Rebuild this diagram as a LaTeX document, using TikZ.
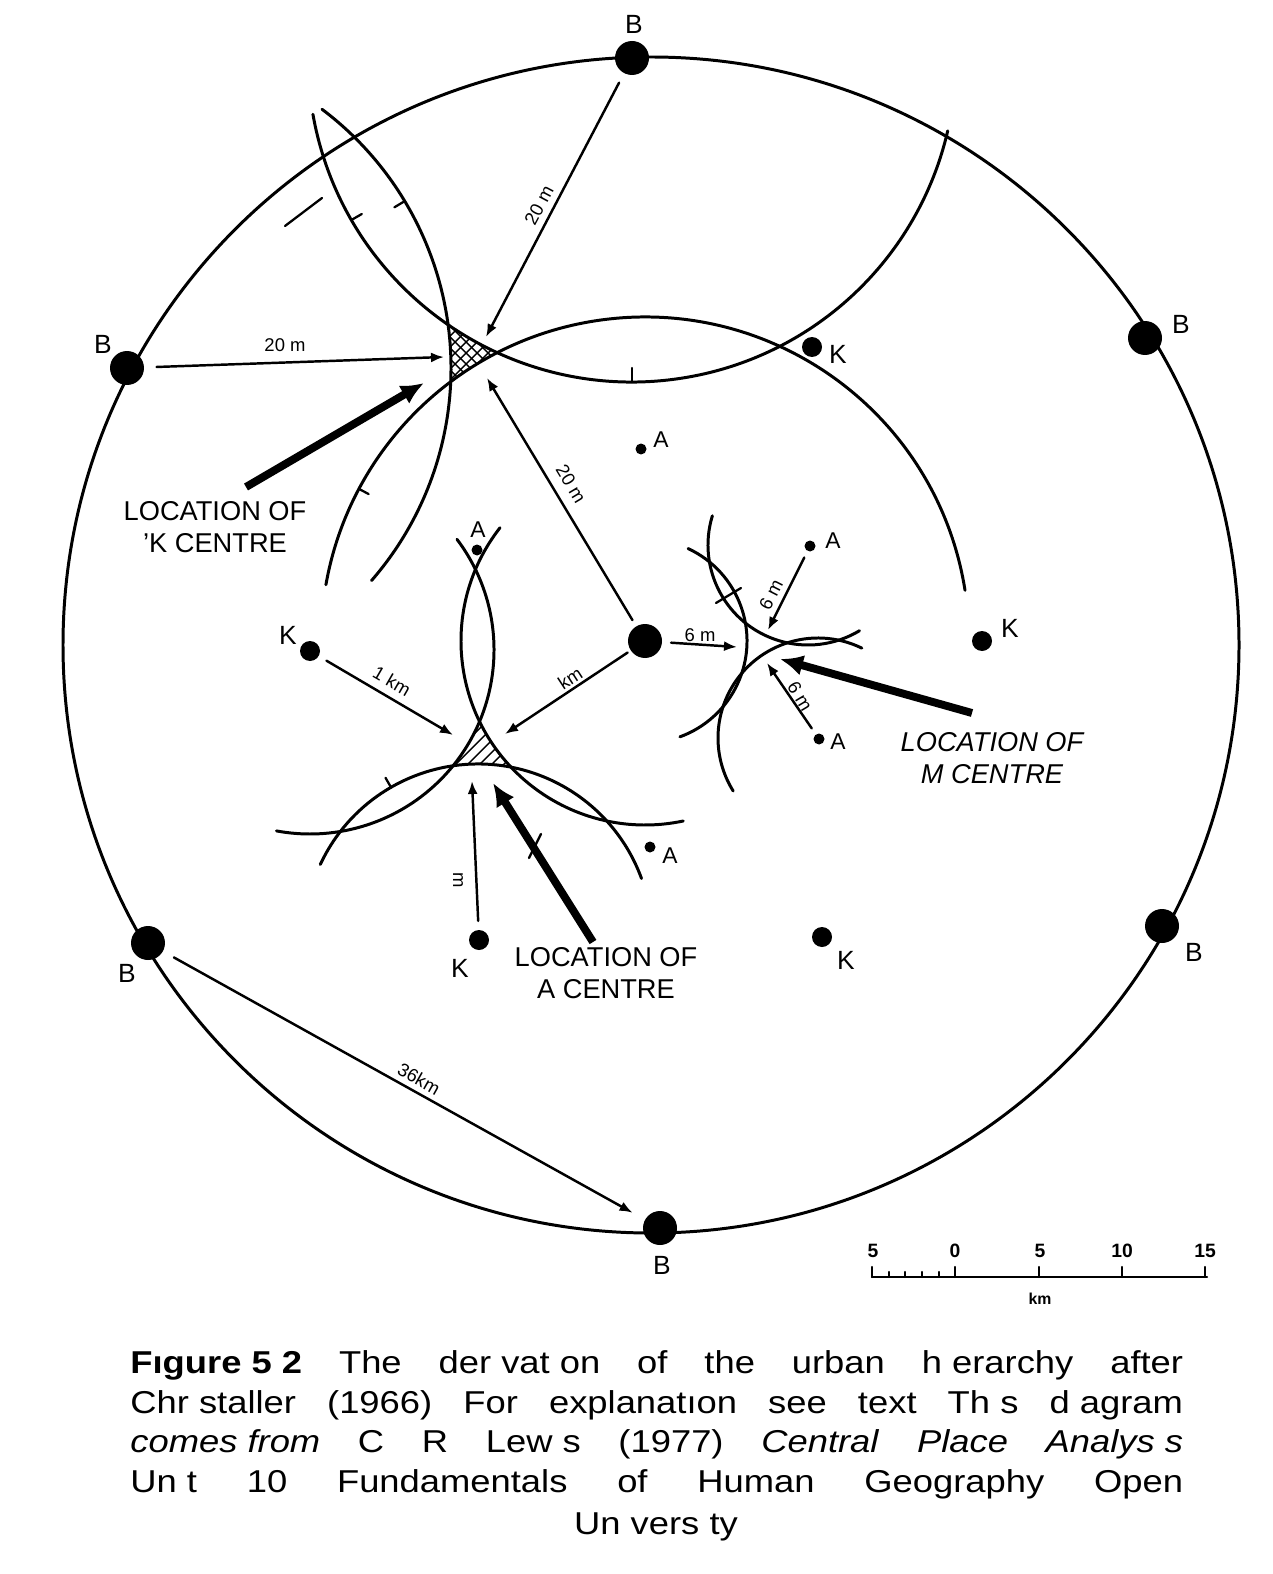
\documentclass[tikz,border=0pt]{standalone}
\usepackage{fontspec}
\setmainfont{Liberation Sans}
\newfontfamily\capfont[FakeStretch=1.15]{Liberation Sans}
\usetikzlibrary{arrows.meta}
\newcommand\capline[1]{\hbox to 21.06cm{#1}}
\begin{document}
\begin{tikzpicture}[x=0.02cm,y=-0.02cm,line cap=round,line join=round,
  ring/.style={line width=1.7pt},
  hatchline/.style={line width=0.8pt},
  tickmark/.style={line width=1.3pt},
  dist/.style={line width=1.4pt,-{Latex[length=0.26cm,width=0.2cm]}},
  locarrow/.style={line width=4.5pt,line cap=butt,-{Latex[length=0.46cm,width=0.42cm]}},
  bdot/.style={circle,fill=black,inner sep=0pt,minimum size=0.68cm},
  kdot/.style={circle,fill=black,inner sep=0pt,minimum size=0.4cm},
  adot/.style={circle,fill=black,inner sep=0pt,minimum size=0.22cm},
  lbl/.style={inner sep=0pt,font=\fontsize{15}{15}\selectfont},
  albl/.style={inner sep=0pt,font=\fontsize{13}{13}\selectfont},
  dlbl/.style={inner sep=0pt,font=\fontsize{10.5}{10.5}\selectfont},
  loc/.style={inner sep=0pt,align=center,font=\fontsize{15.5}{18.5}\selectfont},
  scl/.style={inner sep=0pt,font=\bfseries\fontsize{11}{11}\selectfont},
  captext/.style={inner sep=0pt,anchor=base west,font=\capfont\fontsize{18}{20}\selectfont}]

\path[use as bounding box,fill=white] (0,0) rectangle (1272,1574);

% ---------- outer circle through the B centres
\draw[ring] (651,645) circle[radius=588];

% ---------- ranges of B centres (K centre location)
\draw[ring] (645,641) ++(-9:324) arc[start angle=-9,end angle=-170,radius=324];
\draw[ring] (632,58) ++(170:324) arc[start angle=170,end angle=13,radius=324];
\draw[ring] (127,368) ++(-53:324) arc[start angle=-53,end angle=41,radius=324];

% cross hatching of the K centre location
\begin{scope}[even odd rule]
  \clip (466,353) circle[radius=44];
  \clip (300,200) rectangle (650,520) (645,641) circle[radius=324];
  \clip (300,200) rectangle (650,520) (632,58) circle[radius=324];
  \clip (300,200) rectangle (650,520) (127,368) circle[radius=324];
  \foreach \d in {-99,-88,...,99} {
    \draw[hatchline] (466+\d-50,353-50) -- (466+\d+50,353+50);
    \draw[hatchline] (466+\d-50,353+50) -- (466+\d+50,353-50);
  }
\end{scope}

% ---------- ranges of B and K centres (A centre location)
\draw[ring] (645,641) ++(218:184) arc[start angle=218,end angle=78,radius=184];
\draw[ring] (310,650) ++(-37:184) arc[start angle=-37,end angle=100.5,radius=184];
\draw[ring] (478,938) ++(205:174) arc[start angle=205,end angle=340,radius=174];

\begin{scope}[even odd rule]
  \clip (481,751) circle[radius=42];
  \clip (350,620) rectangle (620,880) (645,641) circle[radius=184];
  \clip (350,620) rectangle (620,880) (310,650) circle[radius=184];
  \clip (350,620) rectangle (620,880) (478,938) circle[radius=174];
  \foreach \d in {-96,-84,...,96} {
    \draw[hatchline] (481+\d-50,751+50) -- (481+\d+50,751-50);
  }
\end{scope}

% ---------- ranges of B and A centres (M centre location)
\draw[ring] (808,545) ++(197:100) arc[start angle=197,end angle=59,radius=100];
\draw[ring] (818,738) ++(-64:100) arc[start angle=-64,end angle=-212,radius=100];
\draw[ring] (645,641) ++(-65:102) arc[start angle=-65,end angle=70,radius=102];

% ---------- small tick marks
\draw[tickmark] (632,58) ++(90:324) -- ++(90:-14);
\draw[tickmark] (632,58) ++(150:312) -- ++(150:12);
\draw[tickmark] (127,368) ++(-31:312) -- ++(-31:12);
\draw[tickmark] (645,641) ++(208:324) -- ++(208:-11);
\draw[tickmark] (478,938) ++(-120:174) -- ++(-120:11);
\draw[tickmark] (285,226) -- (322,198);
\draw[tickmark] (529,858) -- (541,834);
\draw[tickmark] (716,603) -- (741,588);

% ---------- centres
\node[bdot] (Bc)   at (645,641) {};
\node[bdot] (Btop) at (632,58) {};
\node[bdot] (Bru)  at (1145,338) {};
\node[bdot] (Brl)  at (1162,926) {};
\node[bdot] (Bbot) at (660,1228) {};
\node[bdot] (Bll)  at (148,943) {};
\node[bdot] (Blu)  at (127,368) {};

\node[kdot] (K1) at (812,347) {};
\node[kdot] (K2) at (982,641) {};
\node[kdot] (K3) at (822,937) {};
\node[kdot] (K4) at (479,940) {};
\node[kdot] (K5) at (310,651) {};

\node[adot] (A1) at (641,449) {};
\node[adot] (A2) at (477,550) {};
\node[adot] (A3) at (810,546) {};
\node[adot] (A4) at (819,739) {};
\node[adot] (A5) at (650,847) {};

% labels of centres
\node[lbl] (lBtop) at (634,24) {B};
\node[lbl] (lBru)  at (1181,324) {B};
\node[lbl] (lBrl)  at (1194,952) {B};
\node[lbl] (lBbot) at (662,1265) {B};
\node[lbl] (lBll)  at (127,973) {B};
\node[lbl] (lBlu)  at (103,344) {B};

\node[lbl] (lK1) at (838,354) {K};
\node[lbl] (lK2) at (1010,628) {K};
\node[lbl] (lK3) at (846,960) {K};
\node[lbl] (lK4) at (460,968) {K};
\node[lbl] (lK5) at (288,635) {K};

\node[albl] (lA1) at (661,440) {A};
\node[albl] (lA2) at (478,530) {A};
\node[albl] (lA3) at (833,541) {A};
\node[albl] (lA4) at (838,742) {A};
\node[albl] (lA5) at (670,856) {A};

% ---------- K centre arrows
\coordinate (kW) at (444,357);
\coordinate (kN) at (486,337);
\coordinate (kS) at (487,378);
\coordinate (kT) at (424,383);
\coordinate (kTail) at (246,487);
\draw[dist,shorten <=7pt] (Blu) -- (kW);
\draw[dist,shorten <=6pt] (Btop) -- (kN);
\draw[dist,shorten <=4pt] (Bc) -- (kS);
\draw[locarrow] (kTail) -- (kT);
\node[dlbl] (d1) at (285,345) {20 m};
\node[dlbl,rotate=62] (d2) at (539,205) {20 m};
\node[dlbl,rotate=-59] (d3) at (571,484) {20 m};
\node[loc] (locK) at (215,527) {LOCATION OF\\’K CENTRE};

% ---------- A centre arrows
\coordinate (aW) at (453,735);
\coordinate (aE) at (505,734);
\coordinate (aS) at (472,781);
\coordinate (aT) at (493,783);
\coordinate (aTail) at (593,942);
\draw[dist,shorten <=5pt] (K5) -- (aW);
\draw[dist,shorten <=2pt] (Bc) -- (aE);
\draw[dist,shorten <=5pt] (K4) -- (aS);
\draw[locarrow] (aTail) -- (aT);
\node[dlbl,rotate=-30] (d4) at (392,681) {1 km};
\node[dlbl,rotate=33] (d5) at (570,678) {km};
\node[dlbl,rotate=-90] (d6) at (458,880) {m};
\node[loc] (locA) at (606,973) {LOCATION OF\\A CENTRE};

% ---------- M centre arrows
\coordinate (mW) at (737,647);
\coordinate (mN) at (768,630);
\coordinate (mS) at (767,663);
\coordinate (mT) at (780,659);
\coordinate (mTail) at (972,713);
\draw[dist,shorten <=5pt] (Bc) -- (mW);
\draw[dist,shorten <=4pt] (A3) -- (mN);
\draw[dist,shorten <=4pt] (A4) -- (mS);
\draw[locarrow] (mTail) -- (mT);
\node[dlbl] (d7) at (700,635) {6 m};
\node[dlbl,rotate=63] (d8) at (771,595) {6 m};
\node[dlbl,rotate=-59] (d9) at (800,696) {6 m};
\node[loc,font=\itshape\fontsize{15.5}{18.5}\selectfont] (locM) at (992,758) {LOCATION OF\\M CENTRE};

% ---------- B to B distance
\draw[dist,shorten <=7pt,shorten >=8pt] (Bll) -- (Bbot);
\node[dlbl,rotate=-29.4] (d10) at (419,1079) {36km};

% ---------- scale bar
\coordinate (s0) at (872,1277);
\coordinate (s1) at (1207,1277);
\draw[line width=1.3pt] (s0) -- (s1);
\foreach \x in {872,955,1039,1122,1205} \draw[line width=1.3pt] (\x,1277) -- (\x,1267);
\foreach \x in {889,905,922,939} \draw[line width=1.3pt] (\x,1277) -- (\x,1272);
\node[scl] (t1) at (873,1251) {5};
\node[scl] (t2) at (955,1251) {0};
\node[scl] (t3) at (1040,1251) {5};
\node[scl] (t4) at (1122,1251) {10};
\node[scl] (t5) at (1205,1251) {15};
\node[scl,font=\bfseries\fontsize{9}{9}\selectfont] (tkm) at (1040,1299) {km};

% ---------- caption
\node[captext] (c1) at (130,1373) {\capline{\textbf{Fıgure 5 2}\hfill The\hfill der vat on\hfill of\hfill the\hfill urban\hfill h erarchy\hfill after}};
\node[captext] (c2) at (130,1413) {\capline{Chr staller\hfill (1966)\hfill For\hfill explanatıon\hfill see\hfill text\hfill Th s\hfill d agram}};
\node[captext] (c3) at (130,1452) {\capline{\textit{comes from}\hfill C\hfill R\hfill Lew s\hfill (1977)\hfill \textit{Central}\hfill \textit{Place}\hfill \textit{Analys s}}};
\node[captext] (c4) at (130,1492) {\capline{Un t\hfill 10\hfill Fundamentals\hfill of\hfill Human\hfill Geography\hfill Open}};
\node[captext,anchor=base] (c5) at (656,1534) {Un vers ty};
\end{tikzpicture}
\end{document}
